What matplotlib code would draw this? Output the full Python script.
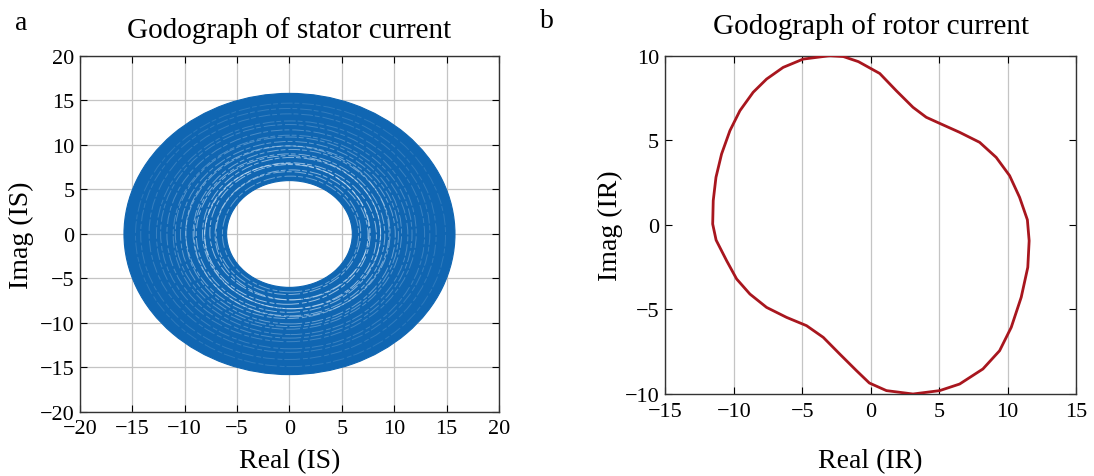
import matplotlib.pyplot as plt
from matplotlib.patches import Wedge, Circle

plt.rcParams['font.family'] = ['Liberation Serif', 'DejaVu Serif']
plt.rcParams['axes.unicode_minus'] = True

# stator current godograph: filled ring between inner and outer trajectory radius
stator_inner = 6.0
stator_outer = 15.8
# visible light streaks inside the ring (radius, x-offset, y-offset, alpha)
streak_r = [6.5, 6.9, 7.3, 7.6, 7.9, 8.2, 8.5, 8.8, 9.1, 9.4, 9.7, 10.0, 10.4, 10.8,
            11.2, 11.7, 12.2, 12.8, 13.4, 14.1, 14.8]
streak_dx = [0.1, -0.1, 0.2, 0.0, -0.2, 0.1, 0.2, -0.1, 0.0, 0.2, -0.2, 0.1, 0.0, -0.1,
             0.1, 0.0, -0.1, 0.1, 0.0, -0.1, 0.1]
streak_dy = [0.0, 0.1, -0.1, 0.2, 0.0, -0.2, 0.1, 0.0, -0.1, 0.1, 0.2, -0.1, 0.0, 0.1,
             -0.1, 0.0, 0.1, -0.1, 0.1, 0.0, -0.1]
streak_a = [0.45, 0.55, 0.6, 0.65, 0.7, 0.65, 0.6, 0.6, 0.55, 0.5, 0.5, 0.45, 0.4, 0.35,
            0.3, 0.3, 0.25, 0.22, 0.2, 0.18, 0.15]

# rotor current godograph
rotor_re = [-3.0, -4.94, -6.4, -7.61, -8.59, -9.56, -10.29, -10.9, -11.31, -11.51, -11.55,
            -11.3, -10.53, -9.8, -8.83, -7.61, -6.15, -4.69, -3.47, -2.26, -1.04, -0.1,
            1.15, 3.09, 5.04, 6.5, 8.2, 9.42, 10.27, 11.0, 11.48, 11.58, 11.45, 10.88,
            10.15, 9.17, 7.96, 6.5, 5.04, 4.06, 3.09, 1.87, 0.66, -0.9, -2.0, -3.0]
rotor_im = [10.0, 9.8, 9.31, 8.62, 7.84, 6.75, 5.57, 4.19, 2.81, 1.43, 0.05,
            -0.9, -2.12, -3.2, -4.09, -4.88, -5.47, -5.96, -6.65, -7.64, -8.62, -9.35,
            -9.8, -10.0, -9.8, -9.41, -8.52, -7.44, -6.06, -4.28, -2.51, -0.94, 0.3, 1.63,
            2.91, 3.99, 4.88, 5.47, 6.0, 6.36, 6.95, 7.93, 8.95, 9.65, 9.95, 10.0]

blue = '#1066b2'
red = '#a8161e'
gridc = '#c4c4c4'

fig = plt.figure(figsize=(10.94, 4.77), dpi=100)

def style(ax, xpad, ypad):
    ax.tick_params(direction='in', top=True, right=True, length=5, width=0.8,
                   labelsize=16, colors='black')
    ax.tick_params(axis='x', pad=xpad)
    ax.tick_params(axis='y', pad=ypad)
    for s in ax.spines.values():
        s.set_linewidth(1.0)
        s.set_color('#333333')
    ax.set_axisbelow(True)

# panel a
ax1 = fig.add_axes([0.0731, 0.1342, 0.3830, 0.7463])
ax1.add_patch(Wedge((0, 0), stator_outer, 0, 360, width=stator_outer - stator_inner,
                    facecolor=blue, edgecolor=blue, linewidth=0.8, zorder=2))
for r, dx, dy, a in zip(streak_r, streak_dx, streak_dy, streak_a):
    ax1.add_patch(Circle((dx, dy), r, fill=False, edgecolor='#d4e7f8', linewidth=0.7,
                         alpha=a, linestyle=(0, (12, 3, 5, 2)), zorder=3))
ax1.set_xlim(-20, 20)
ax1.set_ylim(-20, 20)
ax1.set_xticks(range(-20, 21, 5))
ax1.set_yticks(range(-20, 21, 5))
ax1.grid(True, color=gridc, linewidth=0.9)
style(ax1, 5, 4)
ax1.set_title('Godograph of stator current', fontsize=21, pad=14)
ax1.set_xlabel('Real (IS)', fontsize=20, labelpad=7)
ax1.set_ylabel('Imag (IS)', fontsize=20, labelpad=4)

# panel b
ax2 = fig.add_axes([0.6083, 0.1719, 0.3752, 0.7092])
ax2.plot(rotor_re, rotor_im, color=red, linewidth=2.0, solid_joinstyle='round', zorder=3)
ax2.set_xlim(-15, 15)
ax2.set_ylim(-10, 10)
ax2.set_xticks(range(-15, 16, 5))
ax2.set_yticks(range(-10, 11, 5))
ax2.grid(True, axis='x', color=gridc, linewidth=0.9)
style(ax2, 5.5, 4.5)
ax2.set_title('Godograph of rotor current', fontsize=21, pad=16)
ax2.set_xlabel('Real (IR)', fontsize=20, labelpad=20)
ax2.set_ylabel('Imag (IR)', fontsize=20, labelpad=1)

fig.text(0.019, 0.95, 'a', fontsize=20, va='center', ha='center')
fig.text(0.500, 0.955, 'b', fontsize=20, va='center', ha='center')

fig.savefig('out.png', dpi=100)
